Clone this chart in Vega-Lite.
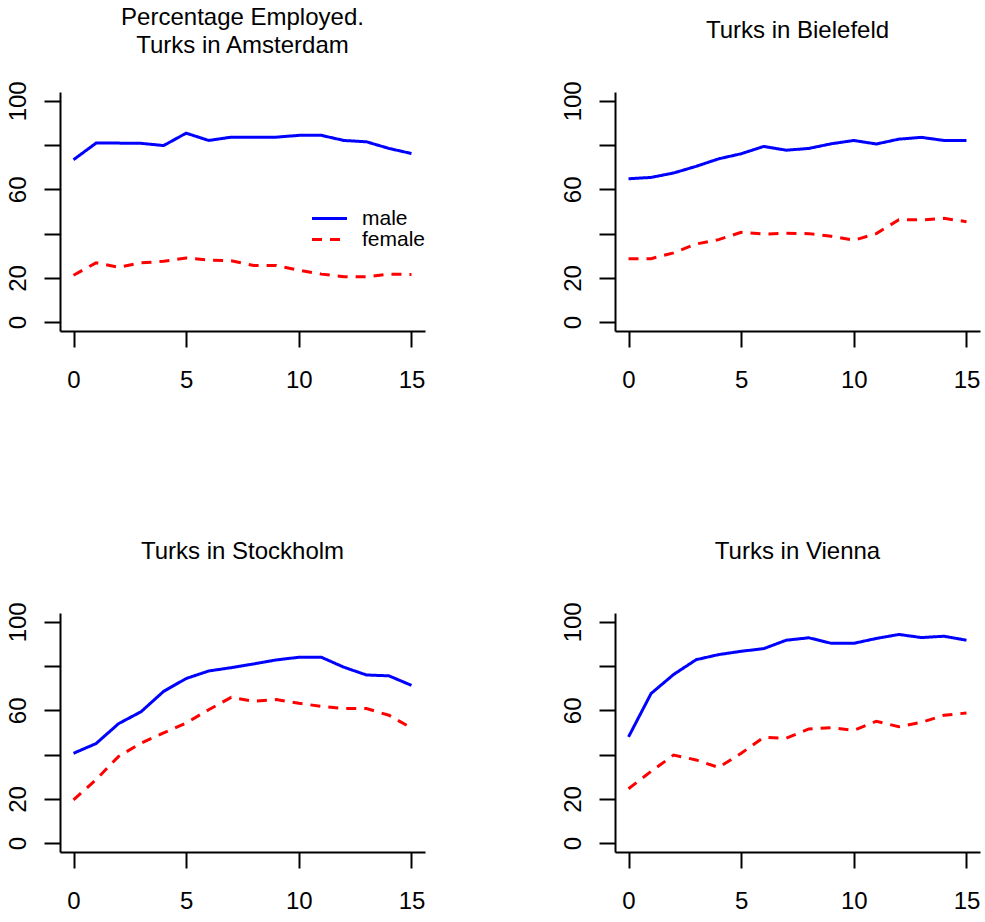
{
  "$schema": "https://vega.github.io/schema/vega-lite/v6.json",
  "background": "white",
  "padding": {"left": 5, "top": 5, "right": 5, "bottom": 5},
  "datasets": {
    "d": [
      {"city": "Amsterdam", "year": 0, "sex": "male", "pct": 73.4},
      {"city": "Amsterdam", "year": 1, "sex": "male", "pct": 80.9},
      {"city": "Amsterdam", "year": 2, "sex": "male", "pct": 80.9},
      {"city": "Amsterdam", "year": 3, "sex": "male", "pct": 80.8},
      {"city": "Amsterdam", "year": 4, "sex": "male", "pct": 79.8},
      {"city": "Amsterdam", "year": 5, "sex": "male", "pct": 85.4},
      {"city": "Amsterdam", "year": 6, "sex": "male", "pct": 82.1},
      {"city": "Amsterdam", "year": 7, "sex": "male", "pct": 83.6},
      {"city": "Amsterdam", "year": 8, "sex": "male", "pct": 83.6},
      {"city": "Amsterdam", "year": 9, "sex": "male", "pct": 83.6},
      {"city": "Amsterdam", "year": 10, "sex": "male", "pct": 84.4},
      {"city": "Amsterdam", "year": 11, "sex": "male", "pct": 84.4},
      {"city": "Amsterdam", "year": 12, "sex": "male", "pct": 82.1},
      {"city": "Amsterdam", "year": 13, "sex": "male", "pct": 81.5},
      {"city": "Amsterdam", "year": 14, "sex": "male", "pct": 78.5},
      {"city": "Amsterdam", "year": 15, "sex": "male", "pct": 76.2},
      {"city": "Amsterdam", "year": 0, "sex": "female", "pct": 21.2},
      {"city": "Amsterdam", "year": 1, "sex": "female", "pct": 26.8},
      {"city": "Amsterdam", "year": 2, "sex": "female", "pct": 24.8},
      {"city": "Amsterdam", "year": 3, "sex": "female", "pct": 26.8},
      {"city": "Amsterdam", "year": 4, "sex": "female", "pct": 27.5},
      {"city": "Amsterdam", "year": 5, "sex": "female", "pct": 29.0},
      {"city": "Amsterdam", "year": 6, "sex": "female", "pct": 28.1},
      {"city": "Amsterdam", "year": 7, "sex": "female", "pct": 27.7},
      {"city": "Amsterdam", "year": 8, "sex": "female", "pct": 25.6},
      {"city": "Amsterdam", "year": 9, "sex": "female", "pct": 25.6},
      {"city": "Amsterdam", "year": 10, "sex": "female", "pct": 23.5},
      {"city": "Amsterdam", "year": 11, "sex": "female", "pct": 21.7},
      {"city": "Amsterdam", "year": 12, "sex": "female", "pct": 20.5},
      {"city": "Amsterdam", "year": 13, "sex": "female", "pct": 20.5},
      {"city": "Amsterdam", "year": 14, "sex": "female", "pct": 21.7},
      {"city": "Amsterdam", "year": 15, "sex": "female", "pct": 21.5},
      {"city": "Bielefeld", "year": 0, "sex": "male", "pct": 64.8},
      {"city": "Bielefeld", "year": 1, "sex": "male", "pct": 65.4},
      {"city": "Bielefeld", "year": 2, "sex": "male", "pct": 67.4},
      {"city": "Bielefeld", "year": 3, "sex": "male", "pct": 70.4},
      {"city": "Bielefeld", "year": 4, "sex": "male", "pct": 73.8},
      {"city": "Bielefeld", "year": 5, "sex": "male", "pct": 76.1},
      {"city": "Bielefeld", "year": 6, "sex": "male", "pct": 79.4},
      {"city": "Bielefeld", "year": 7, "sex": "male", "pct": 77.7},
      {"city": "Bielefeld", "year": 8, "sex": "male", "pct": 78.5},
      {"city": "Bielefeld", "year": 9, "sex": "male", "pct": 80.6},
      {"city": "Bielefeld", "year": 10, "sex": "male", "pct": 82.1},
      {"city": "Bielefeld", "year": 11, "sex": "male", "pct": 80.5},
      {"city": "Bielefeld", "year": 12, "sex": "male", "pct": 82.7},
      {"city": "Bielefeld", "year": 13, "sex": "male", "pct": 83.5},
      {"city": "Bielefeld", "year": 14, "sex": "male", "pct": 82.1},
      {"city": "Bielefeld", "year": 15, "sex": "male", "pct": 82.1},
      {"city": "Bielefeld", "year": 0, "sex": "female", "pct": 28.7},
      {"city": "Bielefeld", "year": 1, "sex": "female", "pct": 28.7},
      {"city": "Bielefeld", "year": 2, "sex": "female", "pct": 31.3},
      {"city": "Bielefeld", "year": 3, "sex": "female", "pct": 35.3},
      {"city": "Bielefeld", "year": 4, "sex": "female", "pct": 37.3},
      {"city": "Bielefeld", "year": 5, "sex": "female", "pct": 40.6},
      {"city": "Bielefeld", "year": 6, "sex": "female", "pct": 39.8},
      {"city": "Bielefeld", "year": 7, "sex": "female", "pct": 40.2},
      {"city": "Bielefeld", "year": 8, "sex": "female", "pct": 40.0},
      {"city": "Bielefeld", "year": 9, "sex": "female", "pct": 38.8},
      {"city": "Bielefeld", "year": 10, "sex": "female", "pct": 37.0},
      {"city": "Bielefeld", "year": 11, "sex": "female", "pct": 40.0},
      {"city": "Bielefeld", "year": 12, "sex": "female", "pct": 46.3},
      {"city": "Bielefeld", "year": 13, "sex": "female", "pct": 46.2},
      {"city": "Bielefeld", "year": 14, "sex": "female", "pct": 46.9},
      {"city": "Bielefeld", "year": 15, "sex": "female", "pct": 45.4},
      {"city": "Stockholm", "year": 0, "sex": "male", "pct": 40.6},
      {"city": "Stockholm", "year": 1, "sex": "male", "pct": 45.0},
      {"city": "Stockholm", "year": 2, "sex": "male", "pct": 54.0},
      {"city": "Stockholm", "year": 3, "sex": "male", "pct": 59.4},
      {"city": "Stockholm", "year": 4, "sex": "male", "pct": 68.6},
      {"city": "Stockholm", "year": 5, "sex": "male", "pct": 74.4},
      {"city": "Stockholm", "year": 6, "sex": "male", "pct": 77.8},
      {"city": "Stockholm", "year": 7, "sex": "male", "pct": 79.3},
      {"city": "Stockholm", "year": 8, "sex": "male", "pct": 81.0},
      {"city": "Stockholm", "year": 9, "sex": "male", "pct": 82.8},
      {"city": "Stockholm", "year": 10, "sex": "male", "pct": 84.0},
      {"city": "Stockholm", "year": 11, "sex": "male", "pct": 84.0},
      {"city": "Stockholm", "year": 12, "sex": "male", "pct": 79.5},
      {"city": "Stockholm", "year": 13, "sex": "male", "pct": 76.0},
      {"city": "Stockholm", "year": 14, "sex": "male", "pct": 75.6},
      {"city": "Stockholm", "year": 15, "sex": "male", "pct": 71.3},
      {"city": "Stockholm", "year": 0, "sex": "female", "pct": 19.6},
      {"city": "Stockholm", "year": 1, "sex": "female", "pct": 28.7},
      {"city": "Stockholm", "year": 2, "sex": "female", "pct": 39.2},
      {"city": "Stockholm", "year": 3, "sex": "female", "pct": 45.2},
      {"city": "Stockholm", "year": 4, "sex": "female", "pct": 49.8},
      {"city": "Stockholm", "year": 5, "sex": "female", "pct": 54.3},
      {"city": "Stockholm", "year": 6, "sex": "female", "pct": 60.3},
      {"city": "Stockholm", "year": 7, "sex": "female", "pct": 65.9},
      {"city": "Stockholm", "year": 8, "sex": "female", "pct": 64.1},
      {"city": "Stockholm", "year": 9, "sex": "female", "pct": 64.9},
      {"city": "Stockholm", "year": 10, "sex": "female", "pct": 63.2},
      {"city": "Stockholm", "year": 11, "sex": "female", "pct": 61.8},
      {"city": "Stockholm", "year": 12, "sex": "female", "pct": 60.9},
      {"city": "Stockholm", "year": 13, "sex": "female", "pct": 60.8},
      {"city": "Stockholm", "year": 14, "sex": "female", "pct": 57.8},
      {"city": "Stockholm", "year": 15, "sex": "female", "pct": 52.0},
      {"city": "Vienna", "year": 0, "sex": "male", "pct": 48.0},
      {"city": "Vienna", "year": 1, "sex": "male", "pct": 67.6},
      {"city": "Vienna", "year": 2, "sex": "male", "pct": 76.2},
      {"city": "Vienna", "year": 3, "sex": "male", "pct": 82.9},
      {"city": "Vienna", "year": 4, "sex": "male", "pct": 85.2},
      {"city": "Vienna", "year": 5, "sex": "male", "pct": 86.7},
      {"city": "Vienna", "year": 6, "sex": "male", "pct": 87.9},
      {"city": "Vienna", "year": 7, "sex": "male", "pct": 91.7},
      {"city": "Vienna", "year": 8, "sex": "male", "pct": 92.8},
      {"city": "Vienna", "year": 9, "sex": "male", "pct": 90.3},
      {"city": "Vienna", "year": 10, "sex": "male", "pct": 90.3},
      {"city": "Vienna", "year": 11, "sex": "male", "pct": 92.5},
      {"city": "Vienna", "year": 12, "sex": "male", "pct": 94.3},
      {"city": "Vienna", "year": 13, "sex": "male", "pct": 92.9},
      {"city": "Vienna", "year": 14, "sex": "male", "pct": 93.5},
      {"city": "Vienna", "year": 15, "sex": "male", "pct": 91.7},
      {"city": "Vienna", "year": 0, "sex": "female", "pct": 24.6},
      {"city": "Vienna", "year": 1, "sex": "female", "pct": 32.4},
      {"city": "Vienna", "year": 2, "sex": "female", "pct": 39.8},
      {"city": "Vienna", "year": 3, "sex": "female", "pct": 37.6},
      {"city": "Vienna", "year": 4, "sex": "female", "pct": 34.2},
      {"city": "Vienna", "year": 5, "sex": "female", "pct": 40.6},
      {"city": "Vienna", "year": 6, "sex": "female", "pct": 47.8},
      {"city": "Vienna", "year": 7, "sex": "female", "pct": 47.4},
      {"city": "Vienna", "year": 8, "sex": "female", "pct": 51.6},
      {"city": "Vienna", "year": 9, "sex": "female", "pct": 52.2},
      {"city": "Vienna", "year": 10, "sex": "female", "pct": 51.0},
      {"city": "Vienna", "year": 11, "sex": "female", "pct": 55.1},
      {"city": "Vienna", "year": 12, "sex": "female", "pct": 52.6},
      {"city": "Vienna", "year": 13, "sex": "female", "pct": 54.6},
      {"city": "Vienna", "year": 14, "sex": "female", "pct": 57.8},
      {"city": "Vienna", "year": 15, "sex": "female", "pct": 58.8}
    ]
  },
  "columns": 2,
  "spacing": {"row": 282, "column": 190},
  "bounds": "flush",
  "resolve": {"legend": {"color": "independent", "strokeDash": "independent"}},
  "config": {
    "font": "Liberation Sans",
    "view": {"stroke": null},
    "title": {"fontSize": 24, "fontWeight": "normal", "color": "#000", "lineHeight": 28, "anchor": "middle", "offset": 38},
    "axis": {"domainColor": "#000", "domainWidth": 2, "tickColor": "#000", "tickWidth": 2, "tickSize": 16, "labelFontSize": 24, "labelColor": "#000", "grid": false, "labelFlush": false, "labelOverlap": false},
    "axisX": {"labelPadding": 21},
    "axisY": {"labelAngle": -90, "labelAlign": "center", "labelBaseline": "alphabetic", "labelPadding": 19}
  },
  "concat": [
    {
      "width": 365, "height": 239,
      "title": {"text": ["Percentage Employed.", "Turks in Amsterdam"], "offset": 23},
      "data": {"name": "d"},
      "transform": [{"filter": "datum.city == 'Amsterdam'"}],
      "mark": {"type": "line", "strokeWidth": 3},
      "encoding": {
        "x": {"field": "year", "type": "quantitative", "scale": {"domain": [-0.6, 15.6], "nice": false, "zero": false}, "axis": {"title": null, "values": [0, 5, 10, 15]}},
        "y": {"field": "pct", "type": "quantitative", "scale": {"domain": [-4, 104], "nice": false}, "axis": {"title": null, "values": [0, 20, 40, 60, 80, 100], "labelExpr": "datum.value == 40 || datum.value == 80 ? '' : datum.label"}},
        "color": {"field": "sex", "type": "nominal", "scale": {"domain": ["male", "female"], "range": ["#0000ff", "#ff0000"]},
          "legend": {"title": null, "orient": "none", "legendX": 259, "legendY": 116, "symbolType": "M-3.5,0H3.5", "symbolSize": 100, "symbolStrokeWidth": 3, "labelFontSize": 21, "labelColor": "#000", "labelOffset": 22, "rowPadding": -2, "padding": 0}},
        "strokeDash": {"field": "sex", "type": "nominal", "scale": {"domain": ["male", "female"], "range": [[1, 0], [10, 8]]},
          "legend": {"title": null, "orient": "none", "legendX": 259, "legendY": 116, "symbolType": "M-3.5,0H3.5", "symbolSize": 100, "symbolStrokeWidth": 3, "labelFontSize": 21, "labelColor": "#000", "labelOffset": 22, "rowPadding": -2, "padding": 0}}
      }
    },
    {
      "width": 365, "height": 239,
      "title": {"text": "Turks in Bielefeld"},
      "data": {"name": "d"},
      "transform": [{"filter": "datum.city == 'Bielefeld'"}],
      "mark": {"type": "line", "strokeWidth": 3},
      "encoding": {
        "x": {"field": "year", "type": "quantitative", "scale": {"domain": [-0.6, 15.6], "nice": false, "zero": false}, "axis": {"title": null, "values": [0, 5, 10, 15]}},
        "y": {"field": "pct", "type": "quantitative", "scale": {"domain": [-4, 104], "nice": false}, "axis": {"title": null, "values": [0, 20, 40, 60, 80, 100], "labelExpr": "datum.value == 40 || datum.value == 80 ? '' : datum.label"}},
        "color": {"field": "sex", "type": "nominal", "scale": {"domain": ["male", "female"], "range": ["#0000ff", "#ff0000"]}, "legend": null},
        "strokeDash": {"field": "sex", "type": "nominal", "scale": {"domain": ["male", "female"], "range": [[1, 0], [10, 8]]}, "legend": null}
      }
    },
    {
      "width": 365, "height": 239,
      "title": {"text": "Turks in Stockholm"},
      "data": {"name": "d"},
      "transform": [{"filter": "datum.city == 'Stockholm'"}],
      "mark": {"type": "line", "strokeWidth": 3},
      "encoding": {
        "x": {"field": "year", "type": "quantitative", "scale": {"domain": [-0.6, 15.6], "nice": false, "zero": false}, "axis": {"title": null, "values": [0, 5, 10, 15]}},
        "y": {"field": "pct", "type": "quantitative", "scale": {"domain": [-4, 104], "nice": false}, "axis": {"title": null, "values": [0, 20, 40, 60, 80, 100], "labelExpr": "datum.value == 40 || datum.value == 80 ? '' : datum.label"}},
        "color": {"field": "sex", "type": "nominal", "scale": {"domain": ["male", "female"], "range": ["#0000ff", "#ff0000"]}, "legend": null},
        "strokeDash": {"field": "sex", "type": "nominal", "scale": {"domain": ["male", "female"], "range": [[1, 0], [10, 8]]}, "legend": null}
      }
    },
    {
      "width": 365, "height": 239,
      "title": {"text": "Turks in Vienna"},
      "data": {"name": "d"},
      "transform": [{"filter": "datum.city == 'Vienna'"}],
      "mark": {"type": "line", "strokeWidth": 3},
      "encoding": {
        "x": {"field": "year", "type": "quantitative", "scale": {"domain": [-0.6, 15.6], "nice": false, "zero": false}, "axis": {"title": null, "values": [0, 5, 10, 15]}},
        "y": {"field": "pct", "type": "quantitative", "scale": {"domain": [-4, 104], "nice": false}, "axis": {"title": null, "values": [0, 20, 40, 60, 80, 100], "labelExpr": "datum.value == 40 || datum.value == 80 ? '' : datum.label"}},
        "color": {"field": "sex", "type": "nominal", "scale": {"domain": ["male", "female"], "range": ["#0000ff", "#ff0000"]}, "legend": null},
        "strokeDash": {"field": "sex", "type": "nominal", "scale": {"domain": ["male", "female"], "range": [[1, 0], [10, 8]]}, "legend": null}
      }
    }
  ]
}
